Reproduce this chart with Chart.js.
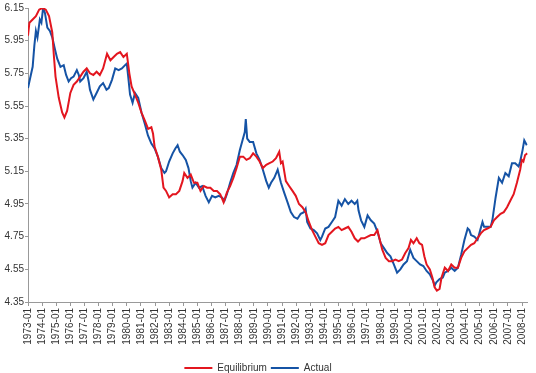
<!DOCTYPE html>
<html>
<head>
<meta charset="utf-8">
<script src="https://cdn.jsdelivr.net/npm/chart.js@4.4.1/dist/chart.umd.min.js"></script>
<style>
  body { margin: 0; background: #fff; }
</style>
</head>
<body>
<canvas id="chart" width="536" height="373"></canvas>
<script>
// valores (año decimal, valor)
const actualYears = [
  1973.0, 1973.15, 1973.33, 1973.45, 1973.56, 1973.67, 1973.84, 1973.95, 1974.07, 1974.2,
  1974.37, 1974.55, 1974.72, 1974.9, 1975.07, 1975.3, 1975.53, 1975.7, 1975.88, 1976.05,
  1976.23, 1976.46, 1976.6, 1976.7, 1976.93, 1977.16, 1977.3, 1977.39, 1977.63, 1977.86,
  1978.09, 1978.32, 1978.56, 1978.72, 1978.95, 1979.18, 1979.42, 1979.65, 1979.88, 1980.0,
  1980.1, 1980.23, 1980.41, 1980.58, 1980.81, 1981.04, 1981.28, 1981.5, 1981.74, 1981.97,
  1982.2, 1982.44, 1982.67, 1982.78, 1983.0, 1983.25, 1983.44, 1983.6, 1983.76, 1983.95,
  1984.18, 1984.37, 1984.53, 1984.65, 1984.88, 1985.11, 1985.34, 1985.58, 1985.81, 1986.04,
  1986.27, 1986.51, 1986.74, 1986.92, 1987.09, 1987.32, 1987.55, 1987.78, 1988.01, 1988.2,
  1988.36, 1988.43, 1988.53, 1988.71, 1988.95, 1989.18, 1989.41, 1989.64, 1989.88, 1990.06,
  1990.22, 1990.45, 1990.69, 1990.92, 1991.15, 1991.39, 1991.62, 1991.85, 1992.09, 1992.32,
  1992.55, 1992.67, 1992.78, 1993.01, 1993.25, 1993.48, 1993.71, 1993.83, 1994.06, 1994.29,
  1994.53, 1994.76, 1994.99, 1995.22, 1995.45, 1995.69, 1995.92, 1996.15, 1996.33, 1996.42,
  1996.6, 1996.83, 1997.06, 1997.29, 1997.53, 1997.76, 1997.99, 1998.22, 1998.45, 1998.68,
  1998.92, 1999.15, 1999.38, 1999.61, 1999.85, 2000.08, 2000.31, 2000.54, 2000.78, 2001.01,
  2001.24, 2001.47, 2001.7, 2001.81, 2001.93, 2002.16, 2002.39, 2002.53, 2002.76, 2002.99,
  2003.23, 2003.46, 2003.69, 2003.92, 2004.15, 2004.27, 2004.39, 2004.62, 2004.85, 2005.04,
  2005.2, 2005.31, 2005.55, 2005.78, 2005.9, 2006.13, 2006.36, 2006.59, 2006.82, 2007.06,
  2007.29, 2007.52, 2007.76, 2007.87, 2008.04, 2008.16, 2008.34
];
const actualValues = [
  5.66, 5.72, 5.79, 5.92, 6.01, 5.97, 6.08, 6.06, 6.15, 6.12,
  6.03, 6.01, 5.97, 5.90, 5.84, 5.79, 5.80, 5.74, 5.70, 5.72,
  5.73, 5.77, 5.74, 5.70, 5.72, 5.76, 5.70, 5.65, 5.59, 5.63,
  5.67, 5.69, 5.65, 5.66, 5.71, 5.78, 5.77, 5.78, 5.80, 5.81,
  5.73, 5.62, 5.57, 5.63, 5.60, 5.51, 5.44, 5.37, 5.32, 5.29,
  5.24, 5.17, 5.14, 5.15, 5.21, 5.26, 5.29, 5.31, 5.27, 5.25,
  5.22, 5.17, 5.09, 5.05, 5.08, 5.05, 5.06, 5.00, 4.96, 5.00,
  4.99, 5.00, 4.99, 4.97, 5.01, 5.08, 5.14, 5.19, 5.28, 5.34,
  5.39, 5.47, 5.35, 5.33, 5.33, 5.26, 5.22, 5.16, 5.09, 5.05,
  5.08, 5.11, 5.16, 5.08, 5.02, 4.96, 4.90, 4.87, 4.86, 4.89,
  4.90, 4.92, 4.84, 4.80, 4.79, 4.77, 4.73, 4.75, 4.80, 4.81,
  4.84, 4.87, 4.97, 4.94, 4.98, 4.95, 4.97, 4.95, 4.97, 4.91,
  4.85, 4.81, 4.88, 4.85, 4.83, 4.78, 4.71, 4.68, 4.65, 4.63,
  4.58, 4.53, 4.55, 4.58, 4.60, 4.67, 4.62, 4.60, 4.58, 4.57,
  4.54, 4.52, 4.48, 4.45, 4.47, 4.49, 4.50, 4.53, 4.54, 4.56,
  4.54, 4.56, 4.64, 4.73, 4.80, 4.79, 4.76, 4.75, 4.73, 4.79,
  4.84, 4.81, 4.81, 4.81, 4.85, 4.99, 5.11, 5.08, 5.14, 5.12,
  5.20, 5.20, 5.18, 5.21, 5.28, 5.34, 5.31
];

const equilYears = [
  1973.0, 1973.1, 1973.33, 1973.56, 1973.79, 1974.02, 1974.26, 1974.49, 1974.72, 1974.84,
  1974.95, 1975.18, 1975.42, 1975.58, 1975.77, 1976.0, 1976.23, 1976.46, 1976.7, 1976.93,
  1977.16, 1977.39, 1977.63, 1977.86, 1978.09, 1978.32, 1978.6, 1978.84, 1979.07, 1979.3,
  1979.53, 1979.76, 1980.0, 1980.18, 1980.34, 1980.58, 1980.81, 1981.04, 1981.28, 1981.51,
  1981.74, 1981.86, 1981.97, 1982.2, 1982.44, 1982.6, 1982.78, 1983.0, 1983.25, 1983.48,
  1983.72, 1983.95, 1984.07, 1984.3, 1984.53, 1984.76, 1985.0, 1985.22, 1985.46, 1985.69,
  1985.92, 1986.16, 1986.39, 1986.62, 1986.86, 1987.09, 1987.32, 1987.55, 1987.78, 1988.01,
  1988.25, 1988.48, 1988.71, 1988.95, 1989.18, 1989.41, 1989.64, 1989.88, 1990.11, 1990.34,
  1990.57, 1990.8, 1990.92, 1991.04, 1991.27, 1991.5, 1991.74, 1991.97, 1992.2, 1992.44,
  1992.67, 1992.9, 1993.13, 1993.36, 1993.6, 1993.83, 1994.06, 1994.29, 1994.53, 1994.76,
  1994.99, 1995.22, 1995.45, 1995.69, 1995.92, 1996.15, 1996.38, 1996.6, 1996.83, 1997.06,
  1997.29, 1997.53, 1997.76, 1997.87, 1998.1, 1998.34, 1998.57, 1998.8, 1999.03, 1999.27,
  1999.5, 1999.73, 1999.96, 2000.13, 2000.31, 2000.54, 2000.73, 2000.92, 2001.08, 2001.24,
  2001.47, 2001.65, 2001.81, 2001.97, 2002.16, 2002.3, 2002.53, 2002.76, 2002.99, 2003.23,
  2003.46, 2003.69, 2003.92, 2004.15, 2004.39, 2004.62, 2004.85, 2005.08, 2005.31, 2005.55,
  2005.78, 2006.01, 2006.24, 2006.48, 2006.71, 2006.94, 2007.17, 2007.41, 2007.64, 2007.87,
  2007.99, 2008.1, 2008.22, 2008.38
];
const equilValues = [
  5.98, 6.06, 6.08, 6.10, 6.14, 6.15, 6.14, 6.10, 6.00, 5.85,
  5.73, 5.60, 5.51, 5.48, 5.52, 5.63, 5.68, 5.70, 5.73, 5.76,
  5.78, 5.75, 5.74, 5.76, 5.74, 5.78, 5.87, 5.83, 5.85, 5.87,
  5.88, 5.85, 5.87, 5.75, 5.67, 5.62, 5.57, 5.51, 5.46, 5.41,
  5.42, 5.38, 5.30, 5.24, 5.16, 5.05, 5.03, 4.99, 5.01, 5.01,
  5.03, 5.09, 5.14, 5.11, 5.13, 5.08, 5.08, 5.03, 5.06, 5.05,
  5.05, 5.03, 5.03, 5.01, 4.96, 5.02, 5.06, 5.11, 5.17, 5.24,
  5.24, 5.22, 5.23, 5.26, 5.24, 5.21, 5.17, 5.19, 5.20, 5.21,
  5.23, 5.27, 5.20, 5.21, 5.09, 5.06, 5.03, 5.00, 4.95, 4.93,
  4.90, 4.84, 4.79, 4.75, 4.71, 4.70, 4.71, 4.76, 4.78, 4.80,
  4.81, 4.79, 4.80, 4.81, 4.78, 4.74, 4.72, 4.74, 4.74, 4.75,
  4.76, 4.76, 4.79, 4.75, 4.67, 4.62, 4.60, 4.60, 4.61, 4.60,
  4.61, 4.65, 4.68, 4.73, 4.71, 4.74, 4.71, 4.70, 4.63, 4.58,
  4.55, 4.50, 4.44, 4.42, 4.43, 4.50, 4.56, 4.54, 4.58, 4.56,
  4.56, 4.62, 4.66, 4.68, 4.70, 4.71, 4.74, 4.77, 4.79, 4.80,
  4.81, 4.85, 4.87, 4.89, 4.90, 4.93, 4.97, 5.01, 5.08, 5.16,
  5.22, 5.21, 5.25, 5.26
];

// ejes
const firstYear = 1973;
const lastYear = 2008;
const yMin = 4.35;
const yMax = 6.15;
const yStep = 0.2;

const toPoints = (xs, ys) => xs.map((x, i) => ({ x: x, y: ys[i] }));

// mover la leyenda un poco a la izquierda, como en el original
const legendShift = {
  id: 'legendShift',
  afterLayout(chart) {
    chart.legend.left -= 10;
    chart.legend.right -= 10;
  }
};

Chart.defaults.font.family = '"Liberation Sans", Arial, sans-serif';
Chart.defaults.font.size = 10;
Chart.defaults.color = '#333';

const ctx = document.getElementById('chart').getContext('2d');
new Chart(ctx, {
  type: 'line',
  data: {
    datasets: [
      {
        label: 'Equilibrium',
        data: toPoints(equilYears, equilValues),
        borderColor: '#e3161f',
        borderWidth: 2,
        pointRadius: 0,
        tension: 0
      },
      {
        label: 'Actual',
        data: toPoints(actualYears, actualValues),
        borderColor: '#1553a5',
        borderWidth: 2,
        pointRadius: 0,
        tension: 0
      }
    ]
  },
  plugins: [legendShift],
  options: {
    responsive: false,
    animation: false,
    layout: { padding: { top: 8, left: 0, right: 0, bottom: -10 } },
    scales: {
      x: {
        type: 'linear',
        min: firstYear,
        max: lastYear + 0.4,
        afterBuildTicks: (scale) => {
          scale.ticks = scale.ticks.filter(t => Number.isInteger(t.value));
        },
        afterFit: (scale) => { scale.height = 57; },
        ticks: {
          stepSize: 1,
          includeBounds: false,
          autoSkip: false,
          minRotation: 90,
          maxRotation: 90,
          padding: 2,
          callback: (v) => v + '-01'
        },
        grid: { drawOnChartArea: false, tickLength: 4, color: '#999' },
        border: { color: '#999' }
      },
      y: {
        min: yMin,
        max: yMax,
        afterFit: (scale) => { scale.width = 28; },
        ticks: {
          stepSize: yStep,
          padding: 1,
          callback: (v) => v.toFixed(2)
        },
        grid: { drawOnChartArea: false, tickLength: 3, color: '#999' },
        border: { color: '#999' }
      }
    },
    plugins: {
      legend: {
        position: 'bottom',
        labels: {
          usePointStyle: true,
          pointStyle: 'line',
          pointStyleWidth: 28,
          padding: 4,
          color: '#333'
        }
      },
      tooltip: { enabled: false }
    }
  }
});
</script>
</body>
</html>
